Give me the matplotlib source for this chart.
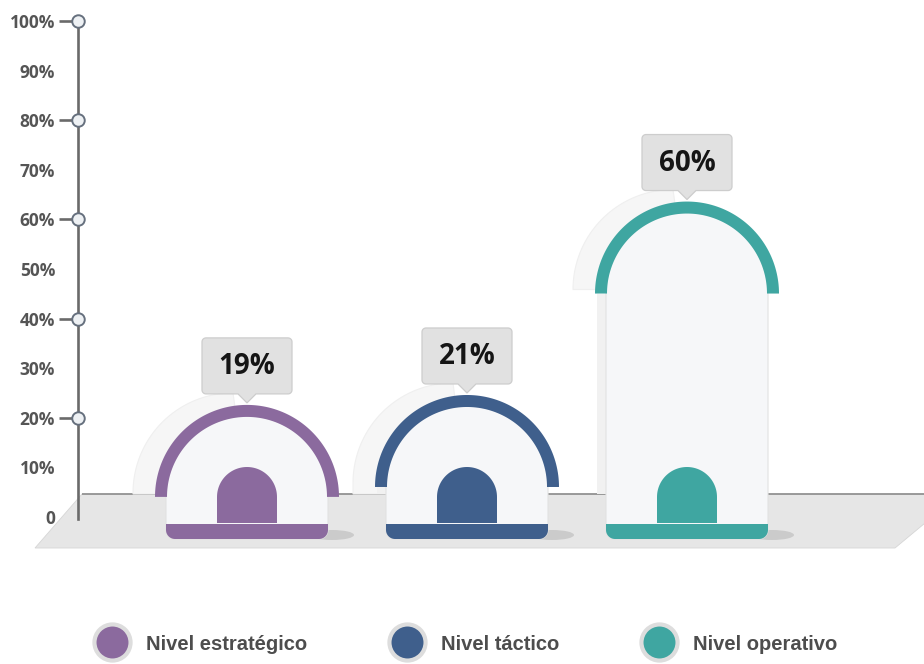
import numpy as np
import matplotlib
matplotlib.use('Agg')
import matplotlib.pyplot as plt
from matplotlib.patches import Polygon, Ellipse
from matplotlib.lines import Line2D

# ---------------- data ----------------
categories = ['Nivel estratégico', 'Nivel táctico', 'Nivel operativo']
values = [19, 21, 60]
value_labels = ['19%', '21%', '60%']
colors = ['#8b6a9e', '#3f5f8c', '#3fa6a1']
ytick_values = [0, 10, 20, 30, 40, 50, 60, 70, 80, 90, 100]
ytick_labels = ['0', '10%', '20%', '30%', '40%', '50%', '60%', '70%', '80%', '90%', '100%']
marker_ticks = [20, 40, 60, 80, 100]

# ---------------- layout ----------------
W, H = 924, 664
PX_X = 220.0   # pixels per category step
PX_Y = 4.96    # pixels per percent
Y0_PX = 517    # pixel row (from top) of 0 %
X0_PX = 247    # pixel column of first category
BASE = 3.6     # floor level in percent units where bars start

fig = plt.figure(figsize=(W / 100, H / 100), dpi=100)
fig.patch.set_facecolor('white')
ax = fig.add_axes([0, 0, 1, 1])
ax.set_xlim(-X0_PX / PX_X, (W - X0_PX) / PX_X)
ax.set_ylim(-(H - Y0_PX) / PX_Y, Y0_PX / PX_Y)
ax.set_facecolor('white')


def dx(p):
    return p / PX_X


def dy(p):
    return p / PX_Y


def ypx(row):
    return (Y0_PX - row) / PX_Y


def xpx(col):
    return (col - X0_PX) / PX_X


def arc(cx, cy, r, a0, a1, n=60):
    t = np.radians(np.linspace(a0, a1, n))
    return list(zip(cx + dx(r) * np.cos(t), cy + dy(r) * np.sin(t)))


def rounded_rect(x0, x1, y0, y1, r, notch=None):
    pts = []
    pts += arc(x0 + dx(r), y0 + dy(r), r, 180, 270, 12)
    if notch is not None:
        ncx, nhw, tip = notch
        pts += [(ncx - dx(nhw), y0), (ncx, tip), (ncx + dx(nhw), y0)]
    pts += arc(x1 - dx(r), y0 + dy(r), r, 270, 360, 12)
    pts += arc(x1 - dx(r), y1 - dy(r), r, 0, 90, 12)
    pts += arc(x0 + dx(r), y1 - dy(r), r, 90, 180, 12)
    return pts


# ---------------- floor ----------------
floor_top = ypx(494)
floor_bot = ypx(548)
floor = Polygon([(xpx(82), floor_top), (xpx(960), floor_top),
                 (xpx(895), floor_bot), (xpx(35), floor_bot)],
                closed=True, facecolor='#e6e6e6', edgecolor='#d6d6d6', lw=0.6, zorder=1)
ax.add_patch(floor)
ax.plot([xpx(82), xpx(930)], [floor_top, floor_top], color='#8c8c8c', lw=1.2, zorder=1.5,
        solid_capstyle='butt')

# ---------------- bars ----------------
R_OUT, R_W = 92, 12
BODY_HW = 81
body_bot = ypx(539)
strip_top = ypx(524)
door_hw = 30
door_top = ypx(467)

for i, (v, c, lab) in enumerate(zip(values, colors, value_labels)):
    cx = i
    top = BASE + v
    cy = top - dy(R_OUT)

    # soft halo behind the arch (upper-left)
    hcx, hcy, hr = cx - dx(14), cy + dy(4), R_OUT + 8
    hlow = floor_top if hcy - dy(20) < floor_top else hcy
    halo = arc(hcx, hcy, hr, 90, 180, 50)
    halo += [(hcx - dx(hr), hlow), (cx, hlow)]
    ax.add_patch(Polygon(halo, closed=True, facecolor='#f6f6f6', edgecolor='#efefef',
                         lw=0.8, zorder=2))
    # faint shadow column left of a tall body
    if cy > floor_top:
        ax.add_patch(Polygon([(cx - dx(R_OUT - 2), floor_top), (cx - dx(BODY_HW), floor_top),
                              (cx - dx(BODY_HW), cy), (cx - dx(R_OUT - 2), cy)],
                             closed=True, facecolor='#f1f1f1', edgecolor='none', zorder=2))
    # shadow at bottom right on the floor
    ax.add_patch(Ellipse((cx + dx(BODY_HW + 4), body_bot + dy(4)), dx(44), dy(10),
                         facecolor='#9a9a9a', alpha=0.35, edgecolor='none', zorder=2))

    # white body
    pts = [(cx - dx(BODY_HW), cy)]
    pts += arc(cx - dx(BODY_HW) + dx(9), body_bot + dy(9), 9, 180, 270, 12)
    pts += arc(cx + dx(BODY_HW) - dx(9), body_bot + dy(9), 9, 270, 360, 12)
    pts += arc(cx, cy, BODY_HW, 0, 180, 80)
    ax.add_patch(Polygon(pts, closed=True, facecolor='#f6f7f9', edgecolor='#e2e2e2',
                         lw=0.8, zorder=3))

    # colored ring
    ring = arc(cx, cy, R_OUT, 0, 180, 100) + arc(cx, cy, R_OUT - R_W, 180, 0, 100)
    ax.add_patch(Polygon(ring, closed=True, facecolor=c, edgecolor='none', zorder=4))

    # bottom strip
    spts = [(cx - dx(BODY_HW), strip_top)]
    spts += arc(cx - dx(BODY_HW) + dx(9), body_bot + dy(9), 9, 180, 270, 12)
    spts += arc(cx + dx(BODY_HW) - dx(9), body_bot + dy(9), 9, 270, 360, 12)
    spts += [(cx + dx(BODY_HW), strip_top)]
    ax.add_patch(Polygon(spts, closed=True, facecolor=c, edgecolor='none', zorder=4))

    # door
    dc = door_top - dy(door_hw)
    dpts = [(cx - dx(door_hw), strip_top + dy(1)), (cx + dx(door_hw), strip_top + dy(1))]
    dpts += arc(cx, dc, door_hw, 0, 180, 50)
    ax.add_patch(Polygon(dpts, closed=True, facecolor=c, edgecolor='none', zorder=4))

    # value label box with pointer
    b0 = top + dy(11)
    b1 = b0 + dy(56)
    box = rounded_rect(cx - dx(45), cx + dx(45), b0, b1, 4, notch=(cx, 9, top + dy(2)))
    ax.add_patch(Polygon(box, closed=True, facecolor='#e1e1e1', edgecolor='#cdcdcd',
                         lw=0.9, zorder=5))
    ax.text(cx, (b0 + b1) / 2 - dy(1), lab, ha='center', va='center', fontsize=20,
            family='Open Sans', weight='bold', color='#151515', zorder=6)

# ---------------- axis ----------------
spine_x = xpx(78)
for s in ['top', 'right', 'bottom']:
    ax.spines[s].set_visible(False)
ax.spines['left'].set_position(('data', spine_x))
ax.spines['left'].set_bounds(-0.5, 100)
ax.spines['left'].set_color('#6a6a6a')
ax.spines['left'].set_linewidth(1.9)
ax.set_xticks([])
ax.set_yticks(ytick_values, ytick_labels)
ax.tick_params(axis='y', length=0, pad=16.5, labelsize=12.5, labelcolor='#555555')
for t in ax.get_yticklabels():
    t.set_fontfamily('Open Sans')
    t.set_fontweight('bold')

for v in marker_ticks:
    ax.plot([xpx(59), xpx(74)], [v, v], color='#6a6a6a', lw=1.9, zorder=5,
            solid_capstyle='butt', clip_on=False)
    ax.plot([spine_x], [v], marker='o', ms=9, mfc='#eef1f4', mec='#66707e', mew=1.4,
            zorder=6, clip_on=False)

# ---------------- legend ----------------
handles = [Line2D([], [], ls='', marker='o', ms=26, mfc=c, mec='#dddddd', mew=3)
           for c in colors]
leg = fig.legend(handles, categories, ncol=3, loc='center',
                 bbox_to_anchor=(466 / W, 20 / H), frameon=False,
                 prop=dict(family='Liberation Sans', weight='bold', size=14.5),
                 labelcolor='#4d4d4d', handlelength=1.74, handletextpad=0.82,
                 columnspacing=4.08, borderpad=0, borderaxespad=0)

fig.savefig('out.png', dpi=100, facecolor='white')
